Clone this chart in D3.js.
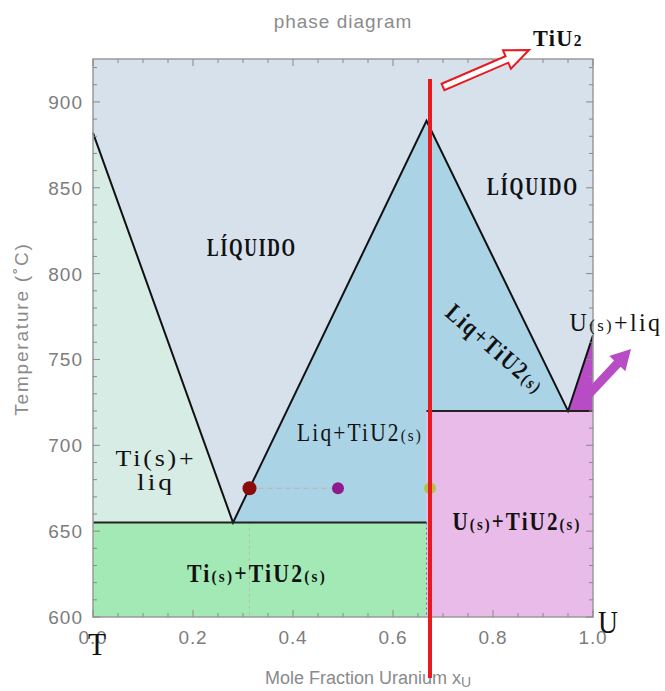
<!DOCTYPE html>
<html>
<head>
<meta charset="utf-8">
<script src="https://cdn.jsdelivr.net/npm/d3@7"></script>
<style>
  body { margin: 0; background: #fff; }
  svg { display: block; }
</style>
</head>
<body>
<svg id="canvas" width="665" height="691"></svg>
<script>
// phase diagram Ti-U
var liquidusX = [0, 0.28, 0.667, 0.95, 1.0];
var liquidusT = [882, 655, 889, 720, 764];
var eutecticT = [655, 720];          // left / right eutectic isotherms
var compoundX = 0.667;               // TiU2
var tieT = 675;
var tieX = [0.313, 0.49, 0.674];
var tieColors = ['#8b0a0a', '#8e1a8e', '#b5c24a'];
var tieR = [7, 6, 6];
var markerX = 0.674;                 // red vertical line
var xTicks = [0, 0.2, 0.4, 0.6, 0.8, 1.0];
var yTicks = [600, 650, 700, 750, 800, 850, 900];

var svg = d3.select('#canvas');
var LEFT = 93, RIGHT = 593, TOP = 59, BOTTOM = 617;

var x = d3.scaleLinear().domain([0, 1]).range([LEFT, RIGHT]);
var y = d3.scaleLinear().domain([600, 925]).range([BOTTOM, TOP]);

function pt(a, b) { return [x(a), y(b)]; }
var line = d3.line();

// regions
var regions = [
  { fill: '#d6e1ec', pts: [pt(0, 925), pt(1, 925), pt(1, 600), pt(0, 600)] },
  { fill: '#d7ece4', pts: [pt(liquidusX[0], liquidusT[0]), pt(liquidusX[1], liquidusT[1]), pt(0, eutecticT[0])] },
  { fill: '#abd3e6', pts: [pt(liquidusX[1], liquidusT[1]), pt(liquidusX[2], liquidusT[2]), pt(liquidusX[3], liquidusT[3]),
                           pt(compoundX, eutecticT[1]), pt(compoundX, eutecticT[0])] },
  { fill: '#a3e9b6', pts: [pt(0, eutecticT[0]), pt(compoundX, eutecticT[0]), pt(compoundX, 600), pt(0, 600)] },
  { fill: '#e9bbe9', pts: [pt(compoundX, eutecticT[1]), pt(1, eutecticT[1]), pt(1, 600), pt(compoundX, 600)] },
  { fill: '#b84cc4', pts: [pt(liquidusX[3], liquidusT[3]), pt(liquidusX[4], liquidusT[4]), pt(1, eutecticT[1])] }
];
svg.selectAll('path.region').data(regions).enter().append('path')
  .attr('class', 'region')
  .attr('d', function(r) { return line(r.pts) + 'Z'; })
  .attr('fill', function(r) { return r.fill; });

// dotted guides
svg.append('path')
  .attr('d', line([pt(tieX[0], tieT), pt(tieX[1], tieT)]))
  .attr('stroke', '#c9a9b4').attr('stroke-width', 1.2).attr('stroke-dasharray', '5,4').attr('fill', 'none');
svg.append('path')
  .attr('d', line([pt(tieX[0], eutecticT[0]), pt(tieX[0], 600)]))
  .attr('stroke', '#d9a3a8').attr('stroke-width', 1).attr('stroke-dasharray', '2,4').attr('fill', 'none');
svg.append('path')
  .attr('d', line([pt(compoundX, eutecticT[0]), pt(compoundX, 600)]))
  .attr('stroke', '#777').attr('stroke-width', 1).attr('stroke-dasharray', '2,3').attr('fill', 'none');

// liquidus and eutectic lines
svg.append('path')
  .attr('d', line(liquidusX.map(function(v, i) { return pt(v, liquidusT[i]); })))
  .attr('stroke', '#111').attr('stroke-width', 2).attr('fill', 'none');
svg.append('path')
  .attr('d', line([pt(0, eutecticT[0]), pt(compoundX, eutecticT[0])]))
  .attr('stroke', '#222').attr('stroke-width', 2).attr('fill', 'none');
svg.append('path')
  .attr('d', line([pt(compoundX, eutecticT[1]), pt(1, eutecticT[1])]))
  .attr('stroke', '#222').attr('stroke-width', 2).attr('fill', 'none');

// tie points
svg.selectAll('circle.tie').data(tieX).enter().append('circle')
  .attr('class', 'tie')
  .attr('cx', function(d) { return x(d); })
  .attr('cy', y(tieT))
  .attr('r', function(d, i) { return tieR[i]; })
  .attr('fill', function(d, i) { return tieColors[i]; });

// frame + ticks (inward, all four sides)
svg.append('rect')
  .attr('x', LEFT).attr('y', TOP).attr('width', RIGHT - LEFT).attr('height', BOTTOM - TOP)
  .attr('fill', 'none').attr('stroke', '#9a9a9a').attr('stroke-width', 1.5);

var xMinor = d3.range(0, 1.0001, 0.05);
var yMinor = d3.range(600, 921, 10);
function isMajorX(v) { return Math.abs(v * 5 - Math.round(v * 5)) < 1e-6; }
function isMajorY(v) { return v % 50 === 0; }

var ticks = svg.append('g').attr('stroke', '#888').attr('stroke-width', 1);
xMinor.forEach(function(v) {
  var len = isMajorX(v) ? 7 : 4;
  ticks.append('line').attr('x1', x(v)).attr('x2', x(v)).attr('y1', BOTTOM).attr('y2', BOTTOM - len);
  ticks.append('line').attr('x1', x(v)).attr('x2', x(v)).attr('y1', TOP).attr('y2', TOP + len);
});
yMinor.forEach(function(v) {
  var len = isMajorY(v) ? 7 : 4;
  ticks.append('line').attr('y1', y(v)).attr('y2', y(v)).attr('x1', LEFT).attr('x2', LEFT + len);
  ticks.append('line').attr('y1', y(v)).attr('y2', y(v)).attr('x1', RIGHT).attr('x2', RIGHT - len);
});

var axisFont = '"Liberation Sans", Arial, sans-serif';
svg.selectAll('text.xt').data(xTicks).enter().append('text')
  .attr('class', 'xt')
  .attr('x', function(d) { return x(d); })
  .attr('y', 644)
  .attr('text-anchor', 'middle')
  .attr('font-family', axisFont).attr('font-size', 19).attr('letter-spacing', 0.8).attr('fill', '#7d7d7d')
  .text(function(d) { return d3.format('.1f')(d); });
svg.selectAll('text.yt').data(yTicks).enter().append('text')
  .attr('class', 'yt')
  .attr('x', 83)
  .attr('y', function(d) { return y(d) + 7; })
  .attr('text-anchor', 'end')
  .attr('font-family', axisFont).attr('font-size', 19).attr('letter-spacing', 1).attr('fill', '#7d7d7d')
  .text(function(d) { return d; });

svg.append('text')
  .attr('transform', 'translate(28,329) rotate(-90)')
  .attr('text-anchor', 'middle')
  .attr('font-family', axisFont).attr('font-size', 19).attr('letter-spacing', 1.8).attr('fill', '#8a8a8a')
  .text('Temperature (˚C)');
var xl = svg.append('text')
  .attr('x', 368).attr('y', 684)
  .attr('text-anchor', 'middle')
  .attr('font-family', axisFont).attr('font-size', 18).attr('fill', '#8a8a8a');
xl.append('tspan').text('Mole Fraction Uranium x');
xl.append('tspan').attr('dy', 3).attr('font-size', 14).text('U');

svg.append('text')
  .attr('x', 343).attr('y', 28)
  .attr('text-anchor', 'middle')
  .attr('font-family', axisFont).attr('font-size', 19).attr('letter-spacing', 1).attr('fill', '#8c8c8c')
  .text('phase diagram');

// red vertical marker
svg.append('line')
  .attr('x1', x(markerX)).attr('x2', x(markerX))
  .attr('y1', 79).attr('y2', 678)
  .attr('stroke', '#e8191f').attr('stroke-width', 4);

// block arrows
function blockArrow(x0, y0, x1, y1, shaftW, headW, headL) {
  var dx = x1 - x0, dy = y1 - y0, L = Math.sqrt(dx * dx + dy * dy);
  var ux = dx / L, uy = dy / L, nx = -uy, ny = ux;
  var b = L - headL;
  function p(a, n) { return [x0 + ux * a + nx * n, y0 + uy * a + ny * n]; }
  return line([p(0, -shaftW / 2), p(b, -shaftW / 2), p(b, -headW / 2), p(L, 0),
               p(b, headW / 2), p(b, shaftW / 2), p(0, shaftW / 2)]) + 'Z';
}
svg.append('path')
  .attr('d', blockArrow(443, 87, 529, 50, 7, 20, 24))
  .attr('fill', '#fff').attr('stroke', '#e8191f').attr('stroke-width', 2);
svg.append('path')
  .attr('d', blockArrow(589, 394, 631, 349, 9, 22, 20))
  .attr('fill', '#b84cc4');

// labels: tall, narrow serif; squeezed horizontally to the width seen in the picture
var serif = '"Liberation Serif", "DejaVu Serif", serif';
function label(cx, by, w, parts, opts) {
  opts = opts || {};
  var size = opts.size || 25;
  var t = svg.append('text')
    .attr('x', 0).attr('y', 0)
    .attr('text-anchor', 'middle')
    .attr('font-family', serif)
    .attr('font-weight', opts.weight || 'bold')
    .attr('font-size', size)
    .attr('letter-spacing', opts.ls === undefined ? 2.5 : opts.ls)
    .attr('fill', '#111');
  parts.forEach(function(p) {
    var s = t.append('tspan').text(p[0]);
    if (p[1]) s.attr('font-size', size * 0.7);
  });
  var sx = w / t.node().getComputedTextLength();
  t.attr('transform', 'translate(' + cx + ',' + by + ') rotate(' + (opts.rotate || 0) + ') scale(' + sx + ',1)');
  return t;
}
label(558, 46, 50, [['TiU'], ['2', 1]], { size: 24, ls: 1.5 });
label(252, 256, 90, [['LÍQUIDO']]);
label(533, 195, 92, [['LÍQUIDO']]);
label(490, 355, 122, [['Liq+TiU2'], ['(s)', 1]], { rotate: 41 });
label(616, 331, 93, [['U'], ['(s)', 1], ['+liq']], { weight: 'normal' });
label(360, 441, 126, [['Liq+TiU2'], ['(s)', 1]], { weight: 'normal' });
label(156, 466, 81, [['Ti(s)+']], { size: 23, weight: 'normal' });
label(156, 490, 38, [['liq']], { size: 23, weight: 'normal' });
label(257, 582, 140, [['Ti'], ['(s)', 1], ['+TiU2'], ['(s)', 1]]);
label(517, 530, 129, [['U'], ['(s)', 1], ['+TiU2'], ['(s)', 1]]);
label(97, 655, 18, [['T']], { size: 32, weight: 'normal', ls: 0 });
label(608, 633, 20, [['U']], { size: 32, weight: 'normal', ls: 0 });
</script>
</body>
</html>
